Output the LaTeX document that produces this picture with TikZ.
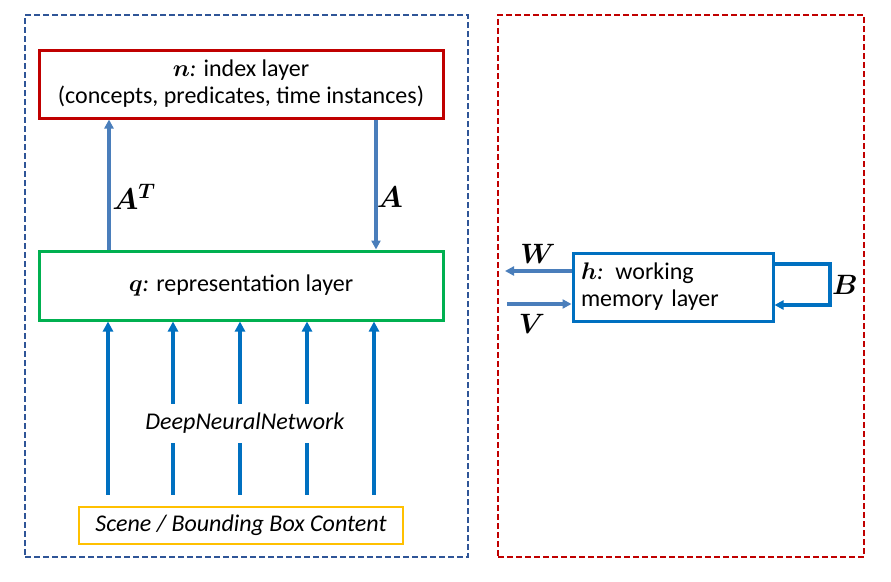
\documentclass[tikz,border=0pt]{standalone}
\usepackage{fix-cm}
\usepackage{fontspec}
\setmainfont{Carlito}
\usepackage{amsmath}
\usepackage{bm}
\usetikzlibrary{arrows.meta}

\definecolor{frameblue}{HTML}{2F5597}
\definecolor{framered}{HTML}{C00000}
\definecolor{idxred}{HTML}{C00000}
\definecolor{repgreen}{HTML}{00B050}
\definecolor{sceneyellow}{HTML}{FFC000}
\definecolor{memblue}{HTML}{0070C0}
\definecolor{arrblue}{HTML}{4A7EBB}
\definecolor{dnnblue}{HTML}{0070C0}

\begin{document}
\begin{tikzpicture}[x=1pt,y=1pt,
    frame/.style={draw, line width=2pt, dash pattern=on 6pt off 3pt, inner sep=0pt},
    layer/.style={draw, line width=3pt, inner sep=0pt, align=center, font=\fontsize{24}{27}\selectfont},
    wire/.style={draw=arrblue, line width=3.2pt, -{Triangle[width=9pt,length=9pt]}},
    dnnwire/.style={draw=dnnblue, line width=3.2pt, -{Triangle[width=10pt,length=10pt]}},
    lbl/.style={inner sep=0pt, font=\fontsize{30}{34}\selectfont}]
    \tikzstyle{every node}+=[inner sep=0pt]
    \useasboundingbox (0,0) rectangle (891,-581);
    \node [frame, draw=frameblue, minimum width=443pt, minimum height=542pt] (lframe) at (246.5,-286) {};
    \node [frame, draw=framered, minimum width=366pt, minimum height=542pt] (rframe) at (681,-286) {};
    \node [layer, draw=idxred, minimum width=404pt, minimum height=68pt] (idx) at (241,-84) {$\bm{n}$\textit{:} index layer\\(concepts, predicates, time instances)};
    \node [layer, draw=repgreen, minimum width=404pt, minimum height=69pt] (rep) at (241,-285.5) {$\bm{q}$\textit{:} representation layer};
    \node [layer, draw=sceneyellow, line width=2.6pt, minimum width=324pt, minimum height=37pt] (scene) at (241,-525.5) {\textit{Scene / Bounding Box Content}};
    \node [layer, draw=memblue, align=left, text width=184pt, inner xsep=8pt, minimum height=68pt] (mem) at (673,-287) {$\bm{h}$\textit{:} working\\memory layer};
    \coordinate (up) at (109,-200);
    \coordinate (down) at (376,-200);
    \draw [wire] (rep.north -| up) -- (idx.south -| up);
    \node [lbl] (lAT) at (134,-197) {$\bm{A}^{\bm{T}}$};
    \draw [wire] (idx.south -| down) -- (rep.north -| down);
    \node [lbl] (lA) at (390,-197) {$\bm{A}$};
    \foreach \x in {108,173,240,307,374} {
        \coordinate (c\x) at (\x,-420);
        \draw [dnnwire, shorten <=11pt] (scene.north -| c\x) -- (rep.south -| c\x);
    }
    \node [fill=white, minimum height=39pt, font=\fontsize{24}{28}\selectfont] (dnn) at (245,-423) {\textit{DeepNeuralNetwork}};
    \coordinate (wend) at (505,-271);
    \coordinate (vstart) at (507,-304);
    \draw [wire] (mem.west |- wend) -- (wend);
    \node [lbl, font=\fontsize{28}{32}\selectfont] (lW) at (538,-254) {$\bm{W}$};
    \draw [wire] (vstart) -- (mem.west |- vstart);
    \node [lbl, font=\fontsize{28}{32}\selectfont] (lV) at (532,-324) {$\bm{V}$};
    \coordinate (btop) at (830,-264);
    \coordinate (bbot) at (830,-305);
    \draw [wire, draw=memblue] (mem.east |- btop) -- (btop) -- (bbot) -- (mem.east |- bbot);
    \node [lbl, font=\fontsize{28}{32}\selectfont] (lB) at (845,-285) {$\bm{B}$};
\end{tikzpicture}
\end{document}
